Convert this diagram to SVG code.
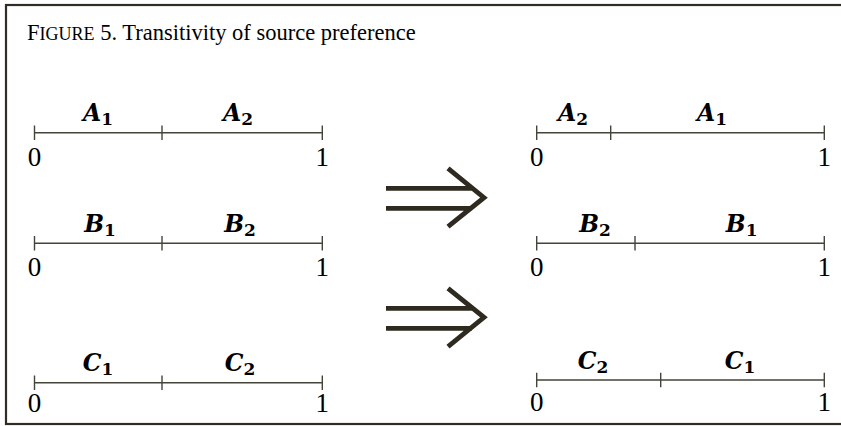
<svg xmlns="http://www.w3.org/2000/svg" width="841" height="426" viewBox="0 0 841 426">
<style>
.frame{fill:none;stroke:#2f2d26;stroke-width:2.2}
.title{font-family:"Liberation Serif","Times New Roman",serif;font-size:22.5px;fill:#000}
.num{font-family:"Liberation Serif","Times New Roman",serif;font-size:27px;fill:#000;text-anchor:middle}
.lab{font-family:"DejaVu Serif","Liberation Serif",serif;font-size:23.5px;font-weight:bold;font-style:italic;fill:#000;text-anchor:middle}
.sub{font-size:17px;font-style:normal}
.axis{stroke:#45443a;stroke-width:1.4;fill:none}
.arr{stroke:#2e2a20;stroke-width:4.8;fill:none;stroke-linecap:butt;stroke-linejoin:miter}
</style>
<rect class="frame" x="6" y="5" width="840" height="419"/>
<text class="title" x="27" y="40">F<tspan font-size="18px">IGURE</tspan> 5. Transitivity of source preference</text>

<g id="left-A">
<path class="axis" d="M34.5 132.7H322.3M34.5 125.5V140M162 125.5V140M322.3 125.5V140"/>
<text class="lab" x="98" y="121">A<tspan class="sub" dy="4">1</tspan></text>
<text class="lab" x="238" y="121">A<tspan class="sub" dy="4">2</tspan></text>
<text class="num" x="34.5" y="165.5">0</text>
<text class="num" x="322.3" y="165.5">1</text>
</g>
<g id="left-B">
<path class="axis" d="M34.5 243.3H322.3M34.5 236V250.5M162 236V250.5M322.3 236V250.5"/>
<text class="lab" x="100" y="232">B<tspan class="sub" dy="4">1</tspan></text>
<text class="lab" x="240" y="232">B<tspan class="sub" dy="4">2</tspan></text>
<text class="num" x="34.5" y="275.5">0</text>
<text class="num" x="322.3" y="275.5">1</text>
</g>
<g id="left-C">
<path class="axis" d="M34.5 382.7H322.3M34.5 375.5V390M162 375.5V390M322.3 375.5V390"/>
<text class="lab" x="98" y="371">C<tspan class="sub" dy="4">1</tspan></text>
<text class="lab" x="240" y="371">C<tspan class="sub" dy="4">2</tspan></text>
<text class="num" x="34.5" y="412">0</text>
<text class="num" x="322.3" y="412">1</text>
</g>

<g id="right-A">
<path class="axis" d="M536.7 132.7H824.3M536.7 125.5V140M610.7 125.5V140M824.3 125.5V140"/>
<text class="lab" x="573" y="121">A<tspan class="sub" dy="4">2</tspan></text>
<text class="lab" x="712" y="121">A<tspan class="sub" dy="4">1</tspan></text>
<text class="num" x="536.7" y="165.5">0</text>
<text class="num" x="824.3" y="165.5">1</text>
</g>
<g id="right-B">
<path class="axis" d="M536.7 243.3H824.3M536.7 236V250.5M635 236V250.5M824.3 236V250.5"/>
<text class="lab" x="595" y="232">B<tspan class="sub" dy="4">2</tspan></text>
<text class="lab" x="741.7" y="232">B<tspan class="sub" dy="4">1</tspan></text>
<text class="num" x="536.7" y="275.5">0</text>
<text class="num" x="824.3" y="275.5">1</text>
</g>
<g id="right-C">
<path class="axis" d="M536.7 380H824.3M536.7 372.8V387.3M660.7 372.8V387.3M824.3 372.8V387.3"/>
<text class="lab" x="593" y="368.5">C<tspan class="sub" dy="4">2</tspan></text>
<text class="lab" x="740" y="368.5">C<tspan class="sub" dy="4">1</tspan></text>
<text class="num" x="536.7" y="410.5">0</text>
<text class="num" x="824.3" y="410.5">1</text>
</g>

<g id="connectors">
<path class="arr" d="M386 188.3H473M386 208.3H472M448 168.3L484 197.7L448 226.7"/>
<path class="arr" d="M386 308.3H473M386 328.3H472M448 288.3L484 317.3L448 346.7"/>
</g>
</svg>
